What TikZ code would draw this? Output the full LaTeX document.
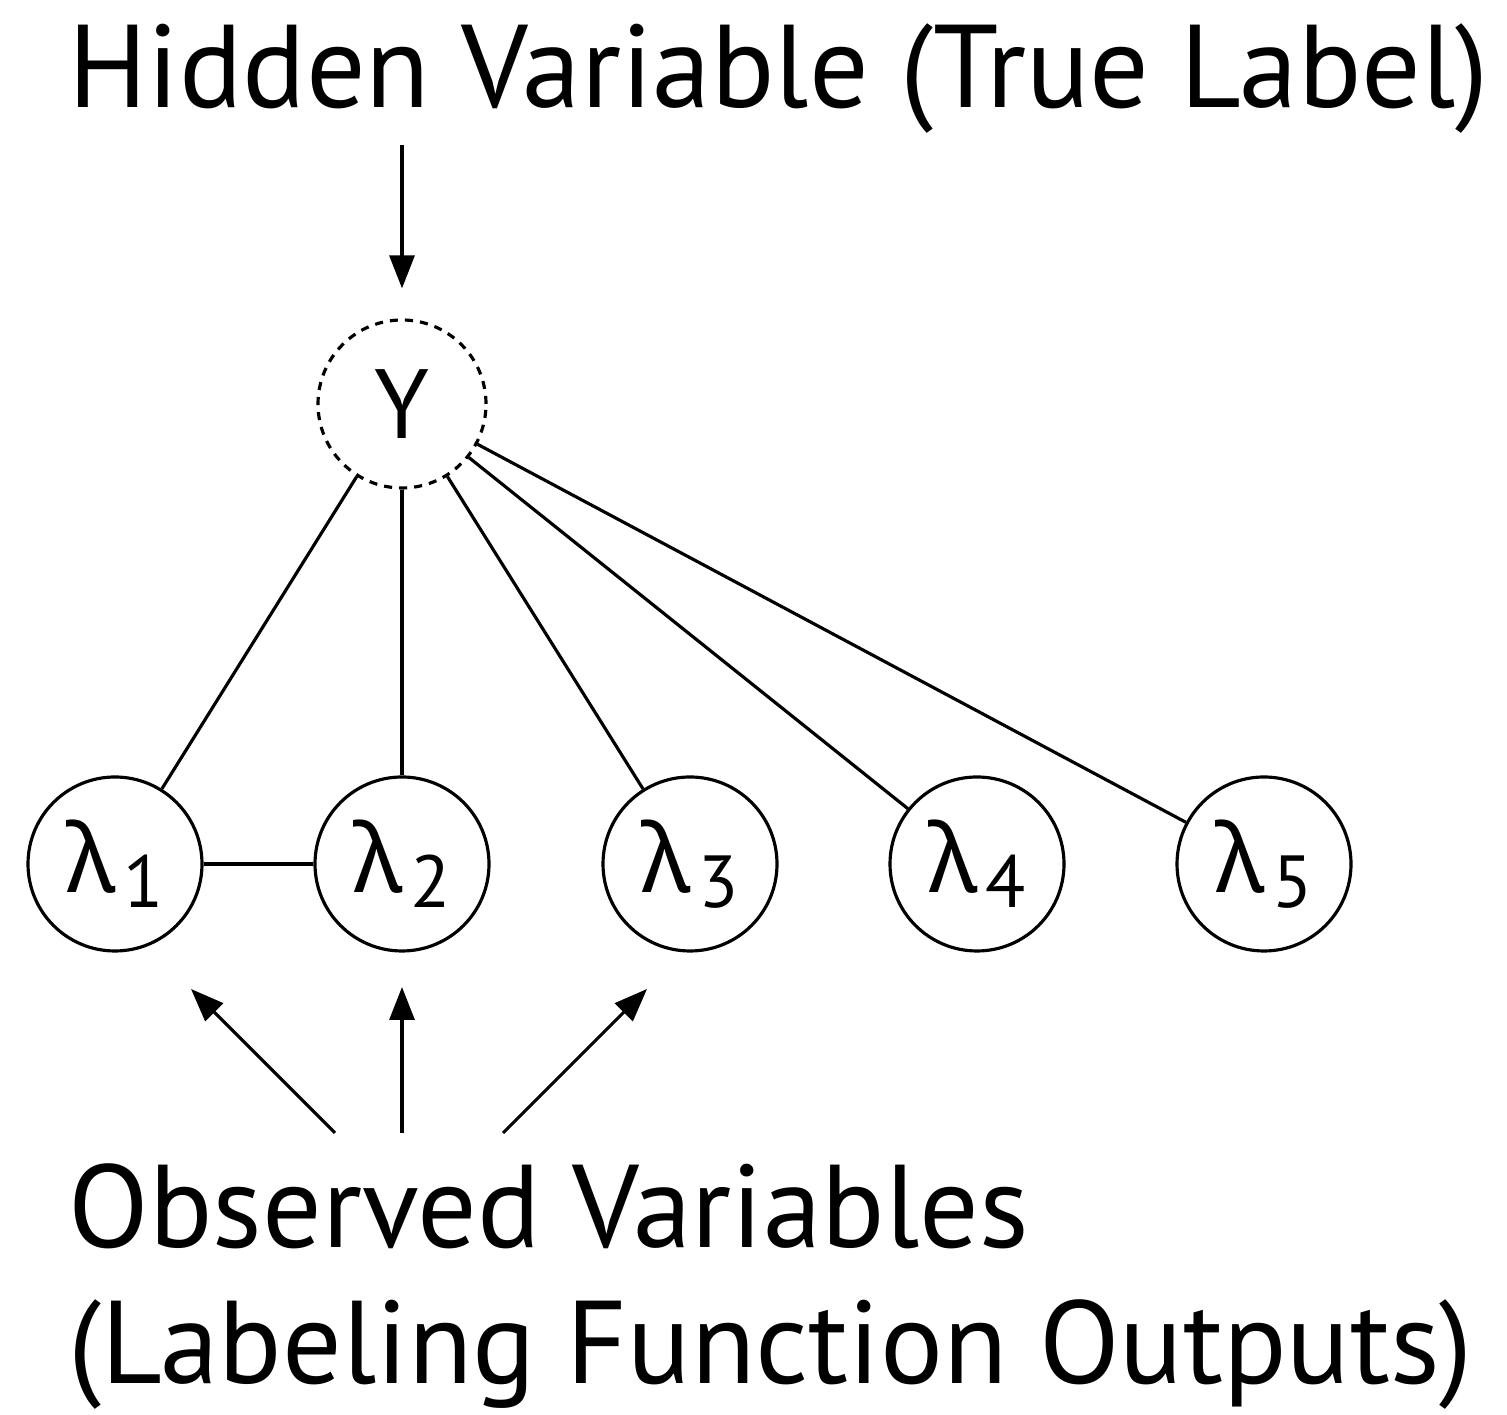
\documentclass[tikz,border=0pt]{standalone}
\usepackage{fontspec}
\setmainfont{PT Sans}
\newfontfamily\grkfont{Noto Sans}
\usetikzlibrary{arrows.meta}

\newcommand{\lam}[1]{{\grkfont\fontsize{27}{27}\selectfont λ}\hspace{0.08cm}\raisebox{-0.15cm}{\fontsize{21}{21}\selectfont #1}}

\begin{document}
\begin{tikzpicture}[var/.style={draw, circle, line width=0.9pt, inner sep=0pt, minimum size=1.74cm},
  edge/.style={draw, line width=0.9pt},
  arr/.style={edge, -{Triangle[length=0.33cm,width=0.25cm]}},
  big/.style={font=\fontsize{33.5}{40}\selectfont, inner sep=0pt}]
\useasboundingbox (0,0) rectangle (15.07,14.15);

\node[big, anchor=base west] (hidden) at (0.68,13.07) {Hidden Variable (True Label)};
\node[draw, circle, line width=0.9pt, dash pattern=on 2.3pt off 2pt, inner sep=0pt, minimum size=1.68cm,
  font=\fontsize{28}{28}\selectfont] (Y) at (4.02,10.11) {Y};

\node[var] (1) at (1.15,5.51) {\lam{1}};
\node[var] (2) at (4.02,5.51) {\lam{2}};
\node[var] (3) at (6.90,5.51) {\lam{3}};
\node[var] (4) at (9.77,5.51) {\lam{4}};
\node[var] (5) at (12.64,5.51) {\lam{5}};

\node[big, anchor=base west] (obs) at (0.68,1.67) {Observed Variables};
\node[big, anchor=base west] (lfo) at (0.68,0.31) {(Labeling Function Outputs)};

\coordinate (top) at (4.02,12.70);
\coordinate (s1) at (3.35,2.82);
\coordinate (s2) at (4.02,2.82);
\coordinate (s3) at (5.03,2.82);
\coordinate (t1) at (1.91,4.26);
\coordinate (t2) at (4.02,4.28);
\coordinate (t3) at (6.47,4.26);

\path[arr] (top) -- ([yshift=0.30cm]Y.north);

\path[edge] (Y) -- (1);
\path[edge] (Y) -- (2);
\path[edge] (Y) -- (3);
\path[edge] (Y) -- (4);
\path[edge] (Y) -- (5);
\path[edge] (1) -- (2);

\path[arr] (s1) -- (t1);
\path[arr] (s2) -- (t2);
\path[arr] (s3) -- (t3);
\end{tikzpicture}
\end{document}
